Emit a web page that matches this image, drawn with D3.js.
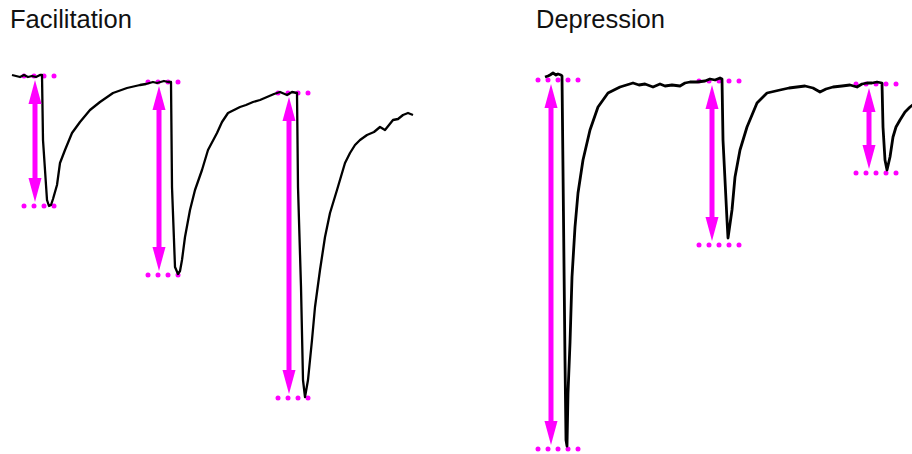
<!DOCTYPE html>
<html>
<head>
<meta charset="utf-8">
<script src="https://cdn.jsdelivr.net/npm/d3@7"></script>
<style>
  html, body { margin: 0; padding: 0; background: #fff; }
  svg { display: block; }
</style>
</head>
<body>
<svg id="chart" width="912" height="454"></svg>
<script>
// Panel titles
const panelTitles = ["Facilitation", "Depression"];

// Facilitation trace: time (ms) and current (pA)
const facTime = [0, 2, 4, 6, 8, 10, 12, 14, 15, 15.5, 17.5, 18.5, 19.5, 20.5, 22.5, 24, 26.5, 30, 34, 39, 44, 50.5, 57.5, 64, 67, 70.5, 72.5, 76, 78, 79.5,
  80, 81.5, 83, 84, 85, 86.5, 89, 91.5, 95, 98, 102.5, 105, 108, 111, 114, 117, 120.5, 124, 127.5, 131, 134, 137.5, 140, 142.5,
  143, 144.5, 145.5, 146.5, 148, 150, 151.5, 154, 156.5, 159, 162.5, 166.5, 169, 171.5, 174, 177.5, 181, 184, 186.5, 190.5, 193, 195.5, 198, 200.5];
const facCurrent = [0, -1, -2, 0, -2, -1, -2, 0, 0, -65, -125, -131, -130, -124, -110, -88, -75, -58, -47, -35, -27, -18, -13, -10, -9, -7, -8, -6, -7, -7,
  -112, -192, -199, -196, -185, -162, -135, -115, -95, -75, -58, -47, -38, -35, -32, -30, -27, -25, -22, -19, -17, -20, -17, -18,
  -112, -212, -305, -322, -305, -265, -232, -195, -162, -138, -115, -88, -78, -70, -65, -60, -57, -52, -55, -45, -44, -40, -38, -40];

// Depression trace: time (ms) and current (pA)
const depTime = [0, 1.5, 2.5, 4, 5.5, 6.5, 8, 8.5, 9, 10, 10.5, 11, 11.5, 12.5, 13.5, 15, 16.5, 19, 22.5, 26.5, 31.5, 37.5, 44, 47, 50, 54, 57.5,
  60, 63.5, 67.5, 70, 72.5, 76, 80, 82.5, 85, 87.5, 88.5,
  89, 91, 91.5, 93.5, 95, 97.5, 101, 106, 111, 117.5, 122, 126, 130, 134, 137.5, 140.5, 144, 148.5, 152.5, 156, 158.5, 161, 163.5, 166, 168.5,
  169, 170, 171, 172.5, 174, 175.5, 177.5, 180, 182.5, 184.5];
const depCurrent = [-2, -1, 0, 2, 0, 1, 0, -1, -95, -285, -365, -371, -318, -268, -202, -152, -118, -85, -55, -32, -18, -12, -8, -10, -9, -12, -9,
  -11, -10, -11, -8, -7, -7, -6, -4, -5, -3, -4,
  -65, -145, -163, -135, -102, -75, -52, -28, -18, -15, -13, -12, -11, -13, -17, -14, -12, -11, -10, -12, -9, -8, -8, -7, -8,
  -52, -85, -95, -82, -62, -52, -45, -37, -32, -29];

// Measured amplitudes: time of the arrow, baseline and peak current (pA)
const facArrowTime = [11.5, 73.5, 138.5];
const facBase = [-1, -7, -18];
const facPeak = [-131, -200, -323];
const depArrowTime = [3, 83.5, 162];
const depBase = [-5, -6, -9];
const depPeak = [-374, -170, -98];

const svg = d3.select("#chart");
const magenta = "#ff00ff";

const yScale = d3.scaleLinear().domain([0, -400]).range([75, 475]);
const facX = d3.scaleLinear().domain([0, 200]).range([12, 412]);
const depX = d3.scaleLinear().domain([0, 200]).range([545, 945]);

// Titles
svg.selectAll("text.title")
  .data(panelTitles)
  .join("text")
  .attr("class", "title")
  .attr("x", (d, i) => i === 0 ? 10 : 536)
  .attr("y", 28)
  .attr("font-family", "'Liberation Sans', Arial, sans-serif")
  .attr("font-size", 25.5)
  .attr("fill", "#111")
  .text(d => d);

function drawPanel(xScale, times, currents, arrowT, base, peak, nDots, dotOffset, traceWidth) {
  const g = svg.append("g");
  const pts = times.map((t, i) => [t, currents[i]]);

  // dotted guides at baseline and peak
  const dots = [];
  arrowT.forEach((t, i) => {
    const x0 = xScale(t) + dotOffset;
    for (let k = 0; k < nDots; k++) {
      dots.push([x0 + k * 10, yScale(base[i])]);
      dots.push([x0 + k * 10, yScale(peak[i])]);
    }
  });
  g.selectAll("circle.guide")
    .data(dots)
    .join("circle")
    .attr("class", "guide")
    .attr("cx", d => d[0])
    .attr("cy", d => d[1])
    .attr("r", 2.5)
    .attr("fill", magenta);

  // the current trace
  const line = d3.line().x(d => xScale(d[0])).y(d => yScale(d[1]));
  g.append("path")
    .datum(pts)
    .attr("d", line)
    .attr("fill", "none")
    .attr("stroke", "#000")
    .attr("stroke-width", traceWidth)
    .attr("stroke-linejoin", "round");

  // double-headed amplitude arrows
  const headLen = 24, headHalf = 6.5, inset = 4;
  arrowT.forEach((t, i) => {
    const x = xScale(t);
    const yTop = yScale(base[i]) + inset;
    const yBot = yScale(peak[i]) - inset;
    g.append("line")
      .attr("x1", x).attr("x2", x)
      .attr("y1", yTop + headLen - 2).attr("y2", yBot - headLen + 2)
      .attr("stroke", magenta)
      .attr("stroke-width", 5);
    g.append("path")
      .attr("d", `M${x},${yTop}L${x - headHalf},${yTop + headLen}L${x + headHalf},${yTop + headLen}Z`)
      .attr("fill", magenta);
    g.append("path")
      .attr("d", `M${x},${yBot}L${x - headHalf},${yBot - headLen}L${x + headHalf},${yBot - headLen}Z`)
      .attr("fill", magenta);
  });
}

drawPanel(facX, facTime, facCurrent, facArrowTime, facBase, facPeak, 4, -11, 2.3);
drawPanel(depX, depTime, depCurrent, depArrowTime, depBase, depPeak, 5, -13, 2.8);
</script>
</body>
</html>
